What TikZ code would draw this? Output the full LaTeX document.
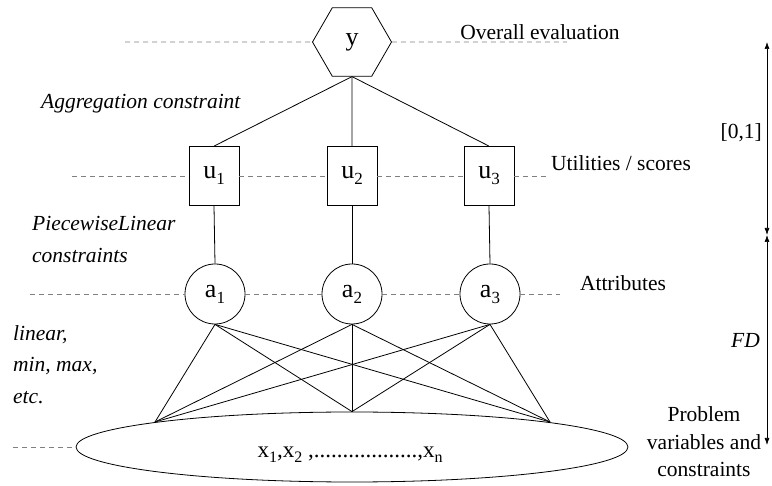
\documentclass[tikz,border=0pt]{standalone}
\usepackage{fontspec}
\setmainfont{Liberation Serif}
\usetikzlibrary{shapes.geometric,arrows.meta}
\newcommand\sbs[1]{\raisebox{-6pt}{\fontsize{17}{17}\selectfont #1}}
\newcommand\xsbs[1]{\raisebox{-5pt}{\fontsize{16}{16}\selectfont #1}}
\begin{document}
\begin{tikzpicture}[x=1pt,y=-1pt,
  font=\fontsize{21.5}{31.5}\selectfont,
  line/.style={line width=0.8pt},
  guide/.style={gray, line width=0.8pt, dash pattern=on 5pt off 4pt},
  nodetext/.style={font=\fontsize{26}{26}\selectfont},
  hexa/.style={draw, regular polygon, regular polygon sides=6, minimum size=79pt, inner sep=0pt, line width=0.8pt, nodetext},
  sq/.style={draw, rectangle, minimum width=50pt, minimum height=59pt, inner sep=0pt, line width=0.8pt, nodetext},
  circ/.style={draw, circle, minimum size=60pt, inner sep=0pt, line width=0.8pt, nodetext},
  ellnode/.style={draw, ellipse, minimum width=552pt, minimum height=70pt, inner sep=0pt, line width=0.8pt},
  lbl/.style={inner sep=0pt},
  itl/.style={inner sep=0pt, font=\fontsize{21.5}{31.5}\selectfont\itshape},
  dbl/.style={line width=0.7pt, {Latex[length=7pt,width=5pt]}-{Latex[length=7pt,width=5pt]}}
]
\useasboundingbox (0,0) rectangle (772,486);

% nodes
\node[hexa] (y) at (352,42) {y};
\node[sq] (u1) at (214,176) {u\sbs{1}};
\node[sq] (u2) at (352,176) {u\sbs{2}};
\node[sq] (u3) at (489,176) {u\sbs{3}};
\node[circ] (a1) at (215,294) {a\sbs{1}};
\node[circ] (a2) at (352,294) {a\sbs{2}};
\node[circ] (a3) at (490,294) {a\sbs{3}};
\node[ellnode] (ell) at (352,447) {};
\node[lbl, font=\fontsize{23}{23}\selectfont] (xs) at (350,455) {x\xsbs{1},x\xsbs{2} ,..................,x\xsbs{n}};

\coordinate (p1) at (155,422);
\coordinate (p2) at (ell.north);
\coordinate (p3) at (550,422);

% connectors
\foreach \u in {u1,u2,u3} \draw[line] (y.south) -- (\u.north);
\draw[line] (u1.south) -- (a1.north);
\draw[line] (u2.south) -- (a2.north);
\draw[line] (u3.south) -- (a3.north);
\foreach \a in {a1,a2,a3} \foreach \p in {p1,p2,p3} \draw[line] (\a.south) -- (\p);

% dashed guide lines
\coordinate (yl) at (125,42);  \coordinate (yr) at (567,42);
\coordinate (ul) at (72,176);  \coordinate (ur) at (548,176);
\coordinate (al) at (30,294);  \coordinate (ar) at (560,294);
\coordinate (el) at (13,447);
\draw[guide] (yl) -- (y.west);
\draw[guide] (y.east) -- (yr);
\draw[guide] (ul) -- (u1.west);
\draw[guide] (u1.east) -- (u2.west);
\draw[guide] (u2.east) -- (u3.west);
\draw[guide] (u3.east) -- (ur);
\draw[guide] (al) -- (a1.west);
\draw[guide] (a1.east) -- (a2.west);
\draw[guide] (a2.east) -- (a3.west);
\draw[guide] (a3.east) -- (ar);
\draw[guide] (el) -- (ell.west);

% right scale
\coordinate (rt) at (767,42);
\coordinate (rm) at (767,235);
\coordinate (rb) at (767,445);
\draw[dbl] (rt) -- (rm);
\draw[dbl] (rm) -- (rb);

% labels
\node[lbl] (ov) at (540,32) {Overall evaluation};
\node[lbl] (us) at (621,163) {Utilities / scores};
\node[lbl] (at) at (623,283) {Attributes};
\node[itl, anchor=west] (ag) at (41,104) {Aggregation constraint};
\node[itl, anchor=west, align=left, font=\fontsize{21.5}{32}\selectfont\itshape] (pw) at (32,239) {PiecewiseLinear\\constraints};
\node[itl, anchor=west, align=left] (lm) at (13,364.5) {linear,\\min, max,\\etc.};
\node[lbl, anchor=east] (zo) at (762,133) {[0,1]};
\node[itl, anchor=east] (fd) at (760,340) {FD};
\node[lbl, align=center, font=\fontsize{21.5}{27.5}\selectfont] (pv) at (704,442) {Problem\\variables and\\constraints};
\end{tikzpicture}
\end{document}
